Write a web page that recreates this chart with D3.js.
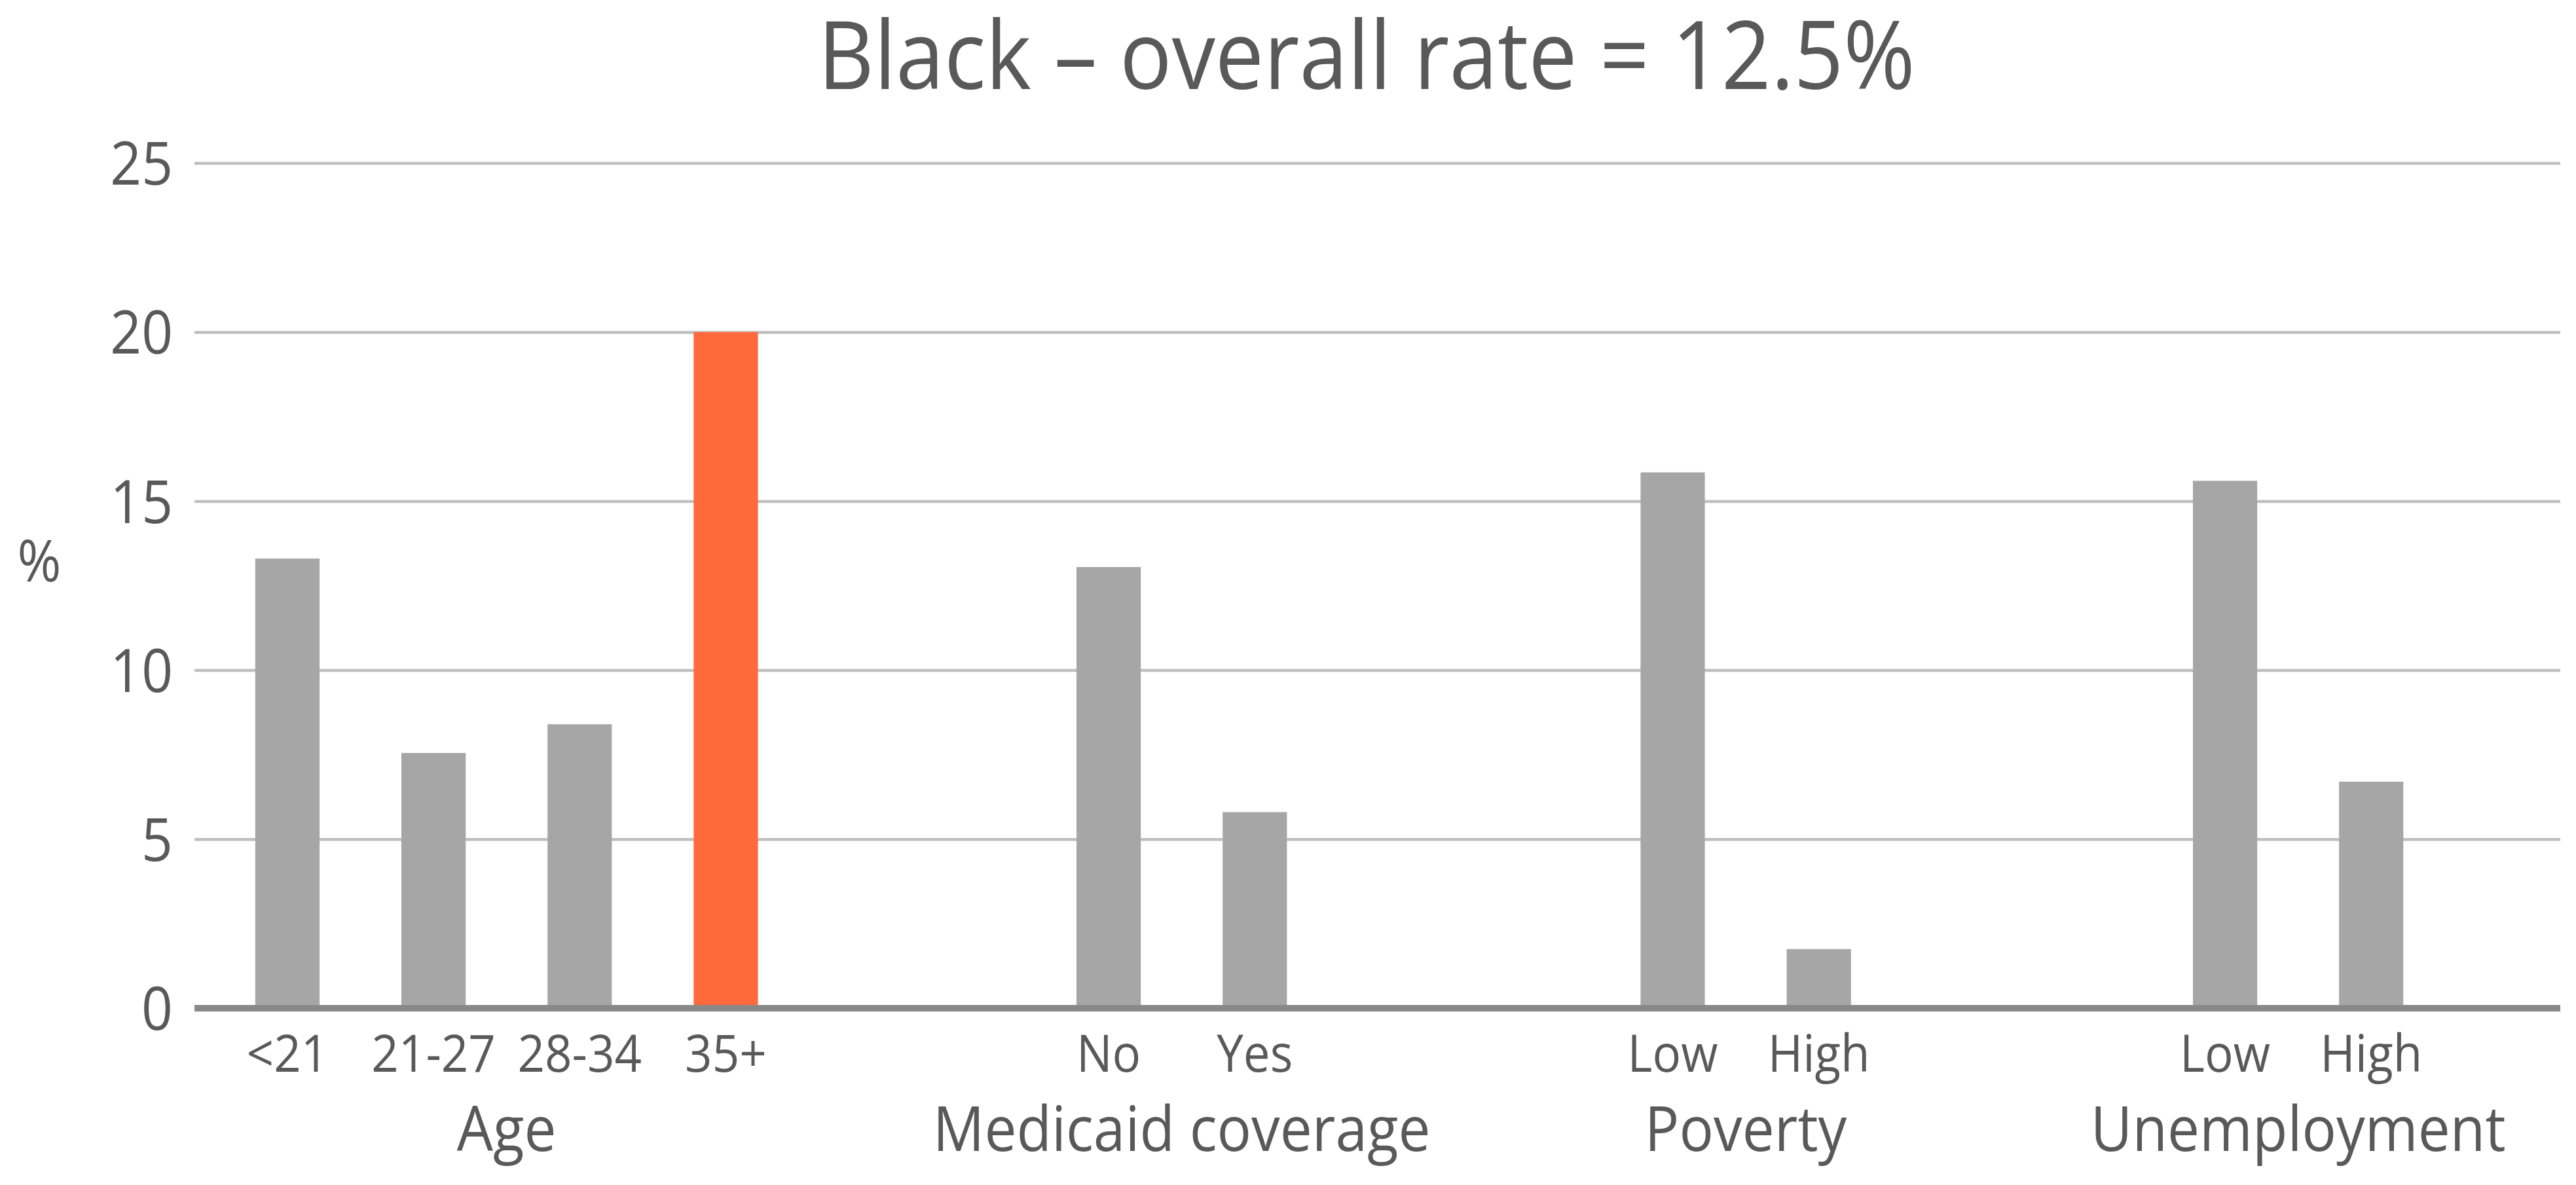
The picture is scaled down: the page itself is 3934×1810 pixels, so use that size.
<!DOCTYPE html>
<html>
<head>
<meta charset="utf-8">
<script src="https://cdn.jsdelivr.net/npm/d3@7"></script>
<style>
  body { margin: 0; background: #fff; }
  text { font-family: "Open Sans", "Noto Sans", sans-serif; fill: #595959; }
</style>
</head>
<body>
<svg id="chart" width="3934" height="1810"></svg>
<script>
// data
const title = "Black \u2013 overall rate = 12.5%";
const groups = ["Age", "Medicaid coverage", "Poverty", "Unemployment"];
const groupCategories = [
    ["<21", "21-27", "28-34", "35+"],
    ["No", "Yes"],
    ["Low", "High"],
    ["Low", "High"]
];
const groupValues = [
    [13.3, 7.55, 8.4, 20.0],
    [13.05, 5.8],
    [15.85, 1.75],
    [15.6, 6.7]
];
const highlighted = { group: "Age", category: "35+" };
const yTicks = [0, 5, 10, 15, 20, 25];

// layout
var margin = {top: 249, right: 24, bottom: 270, left: 297};
var width = 3934 - margin.left - margin.right;
var height = 1540 - margin.top;
var groupGap = [0, 2.62, 2.86, 2.78];   // empty slots in front of each group
var squeeze = 0.92;                      // narrow the font a little

// one slot per bar, groups separated by gaps
var bars = [];
var slot = 0;
groups.forEach(function(g, gi) {
    if (gi > 0) slot += groupGap[gi];
    groupCategories[gi].forEach(function(c, ci) {
        bars.push({ group: g, category: c, value: groupValues[gi][ci], slot: slot });
        slot += 1;
    });
    slot -= 1;
});

var svg = d3.select("#chart");
var g = svg.append("g").attr("transform", `translate(${margin.left}, ${margin.top})`);

var x = d3.scaleLinear()
    .domain([-0.636, d3.max(bars, d => d.slot) + 1.294])
    .range([0, width]);
var barW = x(0.44) - x(0);

var y = d3.scaleLinear().domain([0, 25]).range([height, 0]);

function narrow(sel, px, py) {
    sel.attr("transform", function(d, i) {
        var tx = typeof px === "function" ? px(d, i) : px;
        var ty = typeof py === "function" ? py(d, i) : py;
        return `translate(${tx}, ${ty}) scale(${squeeze}, 1)`;
    }).attr("x", 0).attr("y", 0);
}

// grid + y labels
var yAxis = g.append("g")
    .attr("class", "yaxis")
    .call(d3.axisLeft(y).tickValues(yTicks).tickSize(-width).tickPadding(33));
yAxis.select(".domain").remove();
yAxis.selectAll(".tick line")
    .attr("stroke", "#bfbfbf")
    .attr("stroke-width", 4.5);
yAxis.selectAll(".tick text")
    .style("font-size", "91px")
    .attr("fill", "#595959")
    .attr("dy", "0.36em")
    .attr("transform", "translate(-33,0) scale(" + squeeze + ",1)")
    .attr("x", 0);

// bars
g.selectAll("rect.bar")
    .data(bars)
    .enter()
    .append("rect")
    .attr("class", "bar")
    .attr("x", d => x(d.slot) - barW / 2)
    .attr("y", d => y(d.value))
    .attr("width", barW)
    .attr("height", d => height - y(d.value))
    .attr("fill", d => (d.group === highlighted.group && d.category === highlighted.category) ? "#ff6a3d" : "#a6a6a6");

// baseline
g.append("line")
    .attr("x1", 0).attr("x2", width)
    .attr("y1", y(0)).attr("y2", y(0))
    .attr("stroke", "#898989")
    .attr("stroke-width", 10);

// category labels
g.selectAll("text.cat")
    .data(bars)
    .enter()
    .append("text")
    .attr("class", "cat")
    .attr("text-anchor", "middle")
    .style("font-size", "79px")
    .text(d => d.category)
    .call(narrow, d => x(d.slot), height + 97);

// group labels
var groupCenters = groups.map(function(gname) {
    var s = bars.filter(b => b.group === gname).map(b => b.slot);
    return { name: gname, center: (d3.min(s) + d3.max(s)) / 2 };
});
g.selectAll("text.grp")
    .data(groupCenters)
    .enter()
    .append("text")
    .attr("class", "grp")
    .attr("text-anchor", "middle")
    .style("font-size", "95px")
    .text(d => d.name)
    .call(narrow, d => x(d.center), height + 218);

// y axis title
svg.append("text")
    .attr("text-anchor", "middle")
    .style("font-size", "88px")
    .text("%")
    .call(narrow, 60, 888);

// title
svg.append("text")
    .attr("text-anchor", "middle")
    .style("font-size", "144px")
    .text(title)
    .call(narrow, 2087, 136);
</script>
</body>
</html>
